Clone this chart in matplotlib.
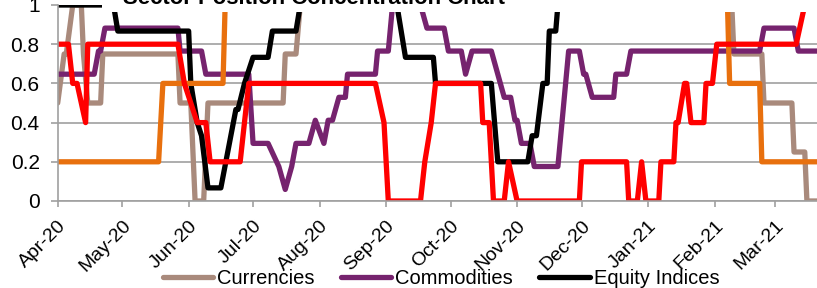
import matplotlib.pyplot as plt
from matplotlib.patches import Rectangle
from matplotlib.transforms import ScaledTranslation
import pandas as pd

plt.rcParams['font.family'] = ['Liberation Sans', 'DejaVu Sans']

# Currencies
curr_dates = ['2020-04-01', '2020-04-04', '2020-04-05', '2020-04-08', '2020-04-12', '2020-04-13',
              '2020-04-15', '2020-04-21', '2020-04-22', '2020-05-27', '2020-05-28', '2020-06-02',
              '2020-06-04', '2020-06-08', '2020-06-10', '2020-07-15', '2020-07-16', '2020-07-21',
              '2020-07-23', '2021-02-09', '2021-02-10', '2021-02-23', '2021-02-24', '2021-03-09',
              '2021-03-10', '2021-03-15', '2021-03-16', '2021-03-21']
curr_vals = [0.5, 0.75, 0.75, 1.0, 1.0, 0.75,
             0.5, 0.5, 0.75, 0.75, 0.5, 0.5,
             0.0, 0.0, 0.5, 0.5, 0.75, 0.75,
             1.0, 1.0, 0.75, 0.75, 0.5, 0.5,
             0.25, 0.25, 0.0, 0.0]

# Commodities
comm_dates = ['2020-04-01', '2020-04-18', '2020-04-20', '2020-04-21', '2020-04-23', '2020-05-27',
              '2020-05-28', '2020-06-07', '2020-06-09', '2020-06-29', '2020-07-01', '2020-07-08',
              '2020-07-13', '2020-07-16', '2020-07-19', '2020-07-21', '2020-07-27', '2020-07-30',
              '2020-08-03', '2020-08-05', '2020-08-07', '2020-08-10', '2020-08-13', '2020-08-14',
              '2020-08-27', '2020-08-28', '2020-09-02', '2020-09-04', '2020-09-17', '2020-09-20',
              '2020-09-28', '2020-09-30', '2020-10-06', '2020-10-08', '2020-10-11', '2020-10-20',
              '2020-10-23', '2020-10-26', '2020-10-29', '2020-10-31', '2020-11-01', '2020-11-03',
              '2020-11-07', '2020-11-09', '2020-11-20', '2020-11-25', '2020-11-30', '2020-12-02',
              '2020-12-03', '2020-12-06', '2020-12-16', '2020-12-17', '2020-12-22', '2020-12-24',
              '2021-02-22', '2021-02-24', '2021-03-10', '2021-03-12', '2021-03-21']
comm_vals = [0.647, 0.647, 0.765, 0.765, 0.882, 0.882,
             0.765, 0.765, 0.647, 0.647, 0.294, 0.294,
             0.176, 0.059, 0.176, 0.294, 0.294, 0.412,
             0.294, 0.412, 0.412, 0.529, 0.529, 0.647,
             0.647, 0.765, 0.765, 1.0, 1.0, 0.882,
             0.882, 0.765, 0.765, 0.647, 0.765, 0.765,
             0.647, 0.529, 0.529, 0.412, 0.412, 0.294,
             0.294, 0.176, 0.176, 0.765, 0.765, 0.647,
             0.647, 0.529, 0.529, 0.647, 0.647, 0.765,
             0.765, 0.882, 0.882, 0.765, 0.765]

# Equity Indices
eq_dates = ['2020-04-01', '2020-04-27', '2020-04-29', '2020-06-01', '2020-06-02', '2020-06-05',
            '2020-06-07', '2020-06-10', '2020-06-16', '2020-06-23', '2020-06-24', '2020-06-27',
            '2020-07-01', '2020-07-08', '2020-07-10', '2020-07-21', '2020-07-23', '2020-09-06',
            '2020-09-08', '2020-09-10', '2020-09-23', '2020-09-24', '2020-10-20', '2020-10-23',
            '2020-11-06', '2020-11-08', '2020-11-10', '2020-11-13', '2020-11-15', '2020-11-16',
            '2020-11-19', '2020-11-20', '2021-03-21']
eq_vals = [1.0, 1.0, 0.867, 0.867, 0.6, 0.4,
           0.333, 0.067, 0.067, 0.467, 0.467, 0.6,
           0.733, 0.733, 0.867, 0.867, 1.0, 1.0,
           0.867, 0.733, 0.733, 0.6, 0.6, 0.2,
           0.2, 0.333, 0.333, 0.6, 0.6, 0.867,
           0.867, 1.0, 1.0]

# orange series (legend entry cut off)
orange_dates = ['2020-04-01', '2020-05-18', '2020-05-20', '2020-06-17', '2020-06-18',
                '2021-02-07', '2021-02-08', '2021-02-22', '2021-02-23', '2021-03-21']
orange_vals = [0.2, 0.2, 0.6, 0.6, 1.0,
               1.0, 0.6, 0.6, 0.2, 0.2]

# red series (legend entry cut off)
red_dates = ['2020-04-01', '2020-04-06', '2020-04-08', '2020-04-10', '2020-04-14', '2020-04-15',
             '2020-05-27', '2020-05-30', '2020-06-05', '2020-06-09', '2020-06-11', '2020-06-25',
             '2020-06-29', '2020-08-27', '2020-08-31', '2020-09-02', '2020-09-17', '2020-09-19',
             '2020-09-22', '2020-09-24', '2020-10-15', '2020-10-16', '2020-10-19', '2020-10-21',
             '2020-10-26', '2020-10-28', '2020-11-01', '2020-11-30', '2020-12-01', '2020-12-22',
             '2020-12-23', '2020-12-27', '2020-12-29', '2020-12-31', '2021-01-06', '2021-01-07',
             '2021-01-13', '2021-01-14', '2021-01-15', '2021-01-18', '2021-01-19', '2021-01-21',
             '2021-01-27', '2021-01-28', '2021-01-31', '2021-02-02', '2021-03-11', '2021-03-15',
             '2021-03-21']
red_vals = [0.8, 0.8, 0.6, 0.6, 0.4, 0.8,
            0.8, 0.6, 0.4, 0.4, 0.2, 0.2,
            0.6, 0.6, 0.4, 0.0, 0.0, 0.2,
            0.4, 0.6, 0.6, 0.4, 0.4, 0.0,
            0.0, 0.2, 0.0, 0.0, 0.2, 0.2,
            0.0, 0.0, 0.2, 0.0, 0.0, 0.2,
            0.2, 0.4, 0.4, 0.6, 0.6, 0.4,
            0.4, 0.6, 0.6, 0.8, 0.8, 1.0,
            1.0]

month_labels = ['Apr-20', 'May-20', 'Jun-20', 'Jul-20', 'Aug-20', 'Sep-20',
                'Oct-20', 'Nov-20', 'Dec-20', 'Jan-21', 'Feb-21', 'Mar-21']
y_ticks = [0, 0.2, 0.4, 0.6, 0.8, 1.0]
y_labels = ['0', '0.2', '0.4', '0.6', '0.8', '1']

W, H = 817, 288
fig = plt.figure(figsize=(W / 100, H / 100), dpi=100)
ax = fig.add_axes([57.7 / W, 1 - 201 / H, 1 - 57.7 / W, 196 / H])

series = [
    (curr_dates, curr_vals, '#A98A7C', 'Currencies'),
    (comm_dates, comm_vals, '#76236E', 'Commodities'),
    (eq_dates, eq_vals, '#000000', 'Equity Indices'),
    (orange_dates, orange_vals, '#E8700E', '_nolegend_'),
    (red_dates, red_vals, '#FF0000', '_nolegend_'),
]
handles = []
for d, v, c, lab in series:
    ln, = ax.plot(pd.to_datetime(d), v, color=c, lw=3.8, label=lab,
                  solid_joinstyle='round', solid_capstyle='round')
    handles.append(ln)

start = pd.Timestamp('2020-04-01')
ax.set_xlim(start, start + pd.Timedelta(days=353.7))
ax.set_ylim(0, 1)

ax.set_xticks(pd.date_range('2020-04-01', '2021-03-01', freq='MS'))
ax.set_xticklabels(month_labels)
ax.set_yticks(y_ticks)
ax.set_yticklabels(y_labels)

grey = '#A0A0A0'
ax.grid(axis='y', color=grey, lw=1.2)
ax.set_axisbelow(True)
for s in ['top', 'right']:
    ax.spines[s].set_visible(False)
for s in ['left', 'bottom']:
    ax.spines[s].set_color(grey)
    ax.spines[s].set_linewidth(1.2)

ax.tick_params(axis='y', length=5, width=1.2, color=grey, labelsize=15, pad=8)
ax.tick_params(axis='x', length=4.5, width=1.2, color=grey, labelsize=14, pad=11.5)
shift = ScaledTranslation(0.06, 0, fig.dpi_scale_trans)
for lbl in ax.get_xticklabels():
    lbl.set_rotation(45)
    lbl.set_ha('right')
    lbl.set_va('center')
    lbl.set_rotation_mode('anchor')
    lbl.set_transform(lbl.get_transform() + shift)

# title area covers the top of the plot
fig.add_artist(Rectangle((102 / W, 1 - 12 / H), 1, 12 / H, transform=fig.transFigure,
                         facecolor='white', edgecolor='none', zorder=5))
fig.text(314 / W, 1 - 4 / H, 'Sector Position Concentration Chart', ha='center',
         va='baseline', fontsize=15.9, fontweight='bold', zorder=6)

fig.legend(handles[:3], ['Currencies', 'Commodities', 'Equity Indices'], loc='center',
           bbox_to_anchor=(441 / W, 1 - 279 / H), ncol=3, frameon=False, fontsize=14.5,
           handlelength=2.5, handletextpad=0.2, columnspacing=1.3, borderpad=0)

fig.savefig('out.png', dpi=100)
